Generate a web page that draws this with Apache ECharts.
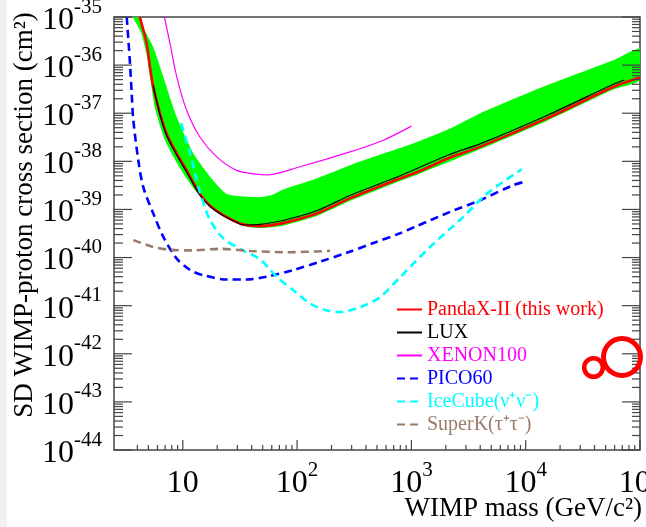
<!DOCTYPE html>
<html><head><meta charset="utf-8">
<script src="https://cdn.jsdelivr.net/npm/echarts@6/dist/echarts.min.js"></script>
<style>html,body{margin:0;padding:0;background:#fff}#c{width:646px;height:527px}</style>
</head><body><div id="c"></div>
<script>
// ---------------- data (mass in GeV/c^2, cross section in cm^2) ----------------
const xMin = 2.5, xMax = 1e5;
const yMin = 1e-44, yMax = 1e-35;
const xTickValues = [10, 100, 1000, 10000, 100000];
const yTickExponents = [-44, -43, -42, -41, -40, -39, -38, -37, -36, -35];

const pandaX = [[4.2,1e-35],[4.83,2.8e-36],[5.16,9.1e-37],[5.52,3.5e-37],[6.3,1.0e-37],[7.2,3.8e-38],[8.85,1.45e-38],[10.8,6.5e-39],[14.1,2.1e-39],[17.3,1.2e-39],[22.6,7.6e-40],[31.6,5.1e-40],[38.7,4.6e-40],[47.3,4.5e-40],[75,5.2e-40],[148,8.2e-40],[290,1.7e-39],[795,4.4e-39],[1190,6.3e-39],[2180,1.2e-38],[3980,2.0e-38],[15300,7.8e-38],[58400,3.5e-37],[1e5,5.5e-37]];
const lux = [[5.5,3.8e-37],[6.3,9.5e-38],[7.2,3.5e-38],[8.85,1.35e-38],[10.8,6.0e-39],[14.1,2.0e-39],[17.3,1.15e-39],[22.6,7.4e-40],[31.6,5.0e-40],[35,4.75e-40],[47.3,4.9e-40],[75,5.9e-40],[148,9.4e-40],[290,1.95e-39],[795,5.0e-39],[2180,1.4e-38],[3980,2.3e-38],[15300,9.0e-38],[58400,4.0e-37],[73000,4.9e-37]];
const xenon100 = [[6.9,1e-35],[7.73,2.8e-36],[8.85,5.7e-37],[10.8,1.15e-37],[14.1,3.2e-38],[19.8,1.24e-38],[29.6,6.5e-39],[44.3,5.4e-39],[54,5.2e-39],[106,7.7e-39],[290,1.57e-38],[568,2.75e-38],[1000,5.4e-38]];
const pico60 = [[3.23,1e-35],[3.45,1.1e-36],[3.57,2.6e-37],[3.69,7.2e-38],[4.08,1.05e-38],[4.51,2.9e-39],[5.52,8.2e-40],[6.75,2.7e-40],[8.85,9.5e-41],[11.6,5.5e-41],[15.1,4.3e-41],[24.2,3.5e-41],[36.2,3.5e-41],[54.2,4.0e-41],[92.7,5.5e-41],[159,8.2e-41],[272,1.26e-40],[465,2.0e-40],[795,3.2e-40],[1110,4.5e-40],[2180,8.9e-40],[3980,1.55e-39],[7780,3.2e-39],[1e4,3.8e-39]];
const iceCube = [[9.65,6.2e-38],[11.6,1.45e-38],[13.7,2.9e-39],[15.6,1.12e-39],[17.3,6.0e-40],[22.6,2.5e-40],[33.8,1.4e-40],[47.3,9.2e-41],[66.2,4.0e-41],[92.7,2.1e-41],[130,1.1e-41],[182,8.0e-42],[237,7.4e-42],[355,9.3e-42],[531,1.5e-41],[795,3.9e-41],[1455,1.66e-40],[2845,7.0e-40],[4550,2.1e-39],[9200,6.8e-39]];
const superK = [[3.69,2.3e-40],[5.52,1.66e-40],[7.73,1.45e-40],[12.4,1.41e-40],[21.1,1.52e-40],[38.7,1.37e-40],[81,1.29e-40],[194,1.38e-40]];
const bandUpper = [[4.27,1e-35],[4.5,6.2e-36],[5.5,2.4e-36],[6.75,5.7e-37],[8.85,8.3e-38],[12.4,1.45e-38],[17.3,4.8e-39],[24.2,2.1e-39],[35,1.85e-39],[47,1.8e-39],[60,2.0e-39],[75.7,2.6e-39],[148,4.4e-39],[290,8.3e-39],[568,1.45e-38],[1110,2.5e-38],[2180,4.8e-38],[3980,9.9e-38],[15300,3.8e-37],[58400,1.26e-36],[1e5,2.2e-36]];
const bandLower = [[3.68,1e-35],[4.3,4.8e-36],[4.83,1.6e-36],[5.71,1.27e-37],[6.98,2.75e-38],[9.45,7.2e-39],[12.8,2.5e-39],[17.3,1.15e-39],[23.4,6.9e-40],[35,4.5e-40],[47,4.1e-40],[75,4.6e-40],[148,7.3e-40],[290,1.5e-39],[795,3.9e-39],[1190,5.6e-39],[3980,1.78e-38],[15300,6.9e-38],[58400,3.1e-37],[1e5,4.9e-37]];

const seriesNames = ['PandaX-II (this work)', 'LUX', 'XENON100', 'PICO60', 'IceCube(ν⁺ν⁻)', 'SuperK(τ⁺τ⁻)'];
const seriesColors = ['#ff0000', '#000000', '#ff00ff', '#0000ff', '#00ffff', '#9a7b6a'];

// ---------------- helpers ----------------
// the y axis works in units of 1e-44 cm^2 (ECharts' log scale rounds extents as tiny as 1e-44 to 0)
const Y_UNIT = 1e-44;
const toAxis = d => d.map(p => [p[0], p[1] / Y_UNIT]);
const yAxisMin = yMin / Y_UNIT, yAxisMax = yMax / Y_UNIT;
const yMajor = yTickExponents.map(e => Math.pow(10, e + 44));
const yMinor = [];
yTickExponents.slice(0, -1).forEach(e => { for (let k = 2; k <= 9; k++) yMinor.push(k * Math.pow(10, e + 44)); });
const xMinor = [];
for (let e = 0; e <= 4; e++) for (let k = 2; k <= 9; k++) { const v = k * Math.pow(10, e); if (v >= 4 && v < xMax) xMinor.push(v); }

const SERIF = '"Liberation Serif", "Times New Roman", serif';
const AX = '#444';
const rich = {
  b: { fontFamily: SERIF, fontSize: 32, lineHeight: 48, color: '#000' },
  e: { fontFamily: SERIF, fontSize: 21, lineHeight: 22, verticalAlign: 'top', color: '#000' }
};

const chart = echarts.init(document.getElementById('c'), null, { renderer: 'canvas' });

const lineSeries = [pandaX, lux, xenon100, pico60, iceCube, superK].map((d, i) => ({
  type: 'line', name: seriesNames[i], data: toAxis(d),
  symbol: 'none', showSymbol: false, smooth: 0.3, clip: true, z: 3 + i,
  lineStyle: { color: seriesColors[i], width: i === 0 ? 2.6 : (i < 3 ? 1.2 : 2.6), type: i < 3 ? 'solid' : [8, 5] },
  itemStyle: { color: seriesColors[i] },
  emphasis: { disabled: true }
}));

const bandSeries = {
  type: 'custom', name: 'band', clip: true, silent: true, z: 1,
  data: [[10, 1e4]],
  renderItem: (params, api) => {
    const up = toAxis(bandUpper), lo = toAxis(bandLower).reverse();
    const pts = up.concat(lo).map(p => api.coord(p));
    return { type: 'polygon', shape: { points: pts, smooth: 0.2 }, style: { fill: '#00ff00' } };
  }
};

// tick marks drawn through the axes' scales
const xTickSeries = {
  type: 'custom', name: 'xticks', clip: false, silent: true, z: 20,
  data: xTickValues.concat(xMinor).map(v => [v, yAxisMin]),
  renderItem: (params, api) => {
    const v = api.value(0);
    const p = api.coord([v, yAxisMin]);
    const L = xTickValues.indexOf(v) >= 0 ? 10 : 5;
    return { type: 'line', shape: { x1: p[0], y1: p[1], x2: p[0], y2: p[1] - L }, style: { stroke: AX, lineWidth: 1.2 } };
  }
};
const yTickSeries = {
  type: 'custom', name: 'yticks', clip: false, silent: true, z: 20,
  data: yMajor.concat(yMinor).map(v => [xMin, v]),
  renderItem: (params, api) => {
    const v = api.value(1);
    const major = yMajor.indexOf(v) >= 0;
    const pl = api.coord([xMin, v]), pr = api.coord([xMax, v]);
    return { type: 'group', children: [
      { type: 'line', shape: { x1: pl[0], y1: pl[1], x2: pl[0] + (major ? 18 : 9), y2: pl[1] }, style: { stroke: AX, lineWidth: 1.2 } },
      { type: 'line', shape: { x1: pr[0], y1: pr[1], x2: pr[0] - (major ? 18 : 8), y2: pr[1] }, style: { stroke: AX, lineWidth: 1.2 } }
    ] };
  }
};

chart.setOption({
  animation: false,
  backgroundColor: '#fff',
  grid: { left: 114, top: 17, width: 526, height: 433, show: true, borderColor: AX, borderWidth: 1.5, outerBoundsMode: 'none' },
  xAxis: {
    type: 'log', logBase: 10, min: xMin, max: xMax,
    axisLine: { show: false, onZero: false }, axisTick: { show: false }, splitLine: { show: false }, minorTick: { show: false },
    axisLabel: { show: true, customValues: xTickValues, margin: 10, rich: rich,
      formatter: v => { const e = Math.round(Math.log10(v)); return e === 1 ? '{b|10}' : '{b|10}{e|' + e + '}'; } }
  },
  yAxis: {
    type: 'log', logBase: 10, min: yAxisMin, max: yAxisMax,
    axisLine: { show: false, onZero: false }, axisTick: { show: false }, splitLine: { show: false }, minorTick: { show: false },
    axisLabel: { show: true, customValues: yMajor, margin: 12, padding: [7, 0, 0, 0], rich: rich,
      formatter: v => '{b|10}{e|' + (Math.round(Math.log10(v)) - 44) + '}' }
  },
  legend: {
    orient: 'vertical', left: 391, top: 294.5, itemWidth: 25, itemHeight: 14, itemGap: 3,
    selectedMode: false,
    itemStyle: { color: 'rgba(0,0,0,0)', borderColor: 'rgba(0,0,0,0)', borderWidth: 0 },
    textStyle: { fontFamily: SERIF, fontSize: 20 },
    data: seriesNames.map((n, i) => ({ name: n, textStyle: { color: seriesColors[i] } }))
  },
  series: [bandSeries].concat(lineSeries, [xTickSeries, yTickSeries]),
  graphic: [
    { type: 'rect', z: -10, shape: { x: 0, y: 0, width: 7, height: 527 }, style: { fill: '#f1f1f1' } },
    { type: 'text', x: 25, y: 215, rotation: Math.PI / 2,
      style: { text: 'SD WIMP-proton cross section (cm²)', fontFamily: SERIF, fontSize: 27, fill: '#000', textAlign: 'center', textVerticalAlign: 'middle', align: 'center', verticalAlign: 'middle' } },
    { type: 'text', x: 642, y: 509,
      style: { text: 'WIMP mass (GeV/c²)', fontFamily: SERIF, fontSize: 27, fill: '#000', textAlign: 'right', textVerticalAlign: 'middle', align: 'right', verticalAlign: 'middle' } },
    { type: 'circle', z: 100, shape: { cx: 622, cy: 357, r: 18.5 }, style: { fill: 'none', stroke: '#ff0000', lineWidth: 5 } },
    { type: 'circle', z: 100, shape: { cx: 593.5, cy: 367.5, r: 9.3 }, style: { fill: 'none', stroke: '#ff0000', lineWidth: 4.5 } }
  ]
});
</script>
</body></html>
